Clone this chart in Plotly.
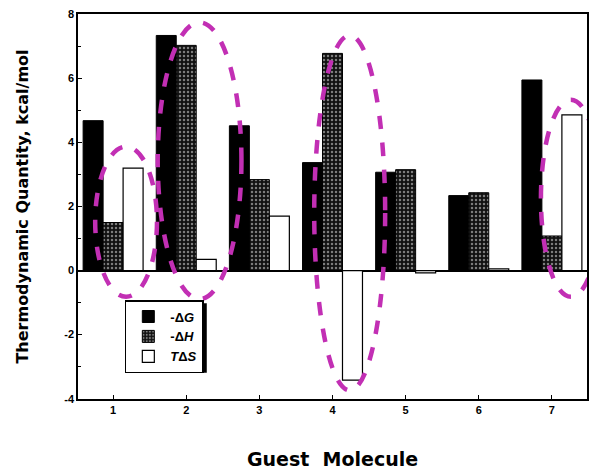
import plotly.graph_objects as go

guests = [1, 2, 3, 4, 5, 6, 7]
neg_dG = [4.68, 7.34, 4.52, 3.37, 3.07, 2.34, 5.95]
neg_dH = [1.50, 7.03, 2.84, 6.78, 3.15, 2.43, 1.08]
TdS = [3.20, 0.35, 1.70, -3.42, -0.07, 0.05, 4.86]

series_names = ["<b>-Δ<i>G</i></b>", "<b>-Δ<i>H</i></b>", "<b><i>T</i>Δ<i>S</i></b>"]
y_ticks = [-4, -2, 0, 2, 4, 6, 8]

fig = go.Figure()
fig.add_trace(go.Bar(x=guests, y=neg_dG, name=series_names[0],
                     marker=dict(color="black", line=dict(color="black", width=1))))
fig.add_trace(go.Bar(x=guests, y=neg_dH, name=series_names[1],
                     marker=dict(color="#111111", line=dict(color="black", width=1),
                                 pattern=dict(shape=".", fgcolor="#e8e8e8", bgcolor="#111111",
                                              size=4, solidity=0.3))))
fig.add_trace(go.Bar(x=guests, y=TdS, name=series_names[2],
                     marker=dict(color="white", line=dict(color="black", width=1.2))))

# magenta dashed ellipses (annotation highlights)
ellipses = [
    (0.755, -0.82, 1.60, 3.87),
    (1.61, -0.89, 2.755, 7.75),
    (3.75, -3.74, 4.72, 7.34),
    (6.85, -0.82, 7.67, 5.33),
]
for x0, y0, x1, y1 in ellipses:
    fig.add_shape(type="circle", xref="x", yref="y", x0=x0, y0=y0, x1=x1, y1=y1,
                  line=dict(color="#C22FB4", width=4.5, dash="dash"), layer="above")

# legend drop shadow
fig.add_shape(type="rect", xref="paper", yref="paper",
              x0=0.098, x1=0.253, y0=0.068, y1=0.249,
              fillcolor="black", line=dict(width=0), layer="below")

fig.update_layout(
    width=591, height=470,
    margin=dict(l=78, r=2, t=14, b=71),
    paper_bgcolor="white", plot_bgcolor="white",
    barmode="group", bargap=0.18, bargroupgap=0,
    font=dict(family="Liberation Sans, Arial, sans-serif", color="black", size=11),
    showlegend=True,
    legend=dict(x=0.092, y=0.257, xanchor="left", yanchor="top",
                bgcolor="white", bordercolor="black", borderwidth=1.5,
                font=dict(size=13, family="Liberation Sans, Arial, sans-serif"),
                itemwidth=34, tracegroupgap=0),
    xaxis=dict(range=[0.52, 7.48], tickmode="array", tickvals=guests,
               ticktext=[f"<b>{g}</b>" for g in guests],
               ticks="inside", ticklen=4, tickwidth=1, tickcolor="black",
               showline=True, linecolor="black", linewidth=1.5, mirror=True,
               showgrid=False, zeroline=False,
               title=dict(text="<b>Guest  Molecule</b>",
                          font=dict(size=19, family="DejaVu Sans, sans-serif"), standoff=38)),
    yaxis=dict(range=[-4.01, 8.01], tickmode="array", tickvals=y_ticks,
               ticktext=[f"<b>{t}</b>" for t in y_ticks],
               ticks="inside", ticklen=4, tickwidth=1, tickcolor="black",
               minor=dict(dtick=1, ticks="inside", ticklen=3, tickcolor="black", showgrid=False),
               showline=True, linecolor="black", linewidth=1.5, mirror=True,
               showgrid=False, zeroline=True, zerolinecolor="black", zerolinewidth=1.5,
               title=dict(text="<b>Thermodynamic Quantity, kcal/mol</b>",
                          font=dict(size=16, family="DejaVu Sans, sans-serif"), standoff=32)),
)

fig.write_html("out.html",
               config={"displayModeBar": False},
               post_script="document.body.style.margin='0px';document.body.style.overflow='hidden';")
